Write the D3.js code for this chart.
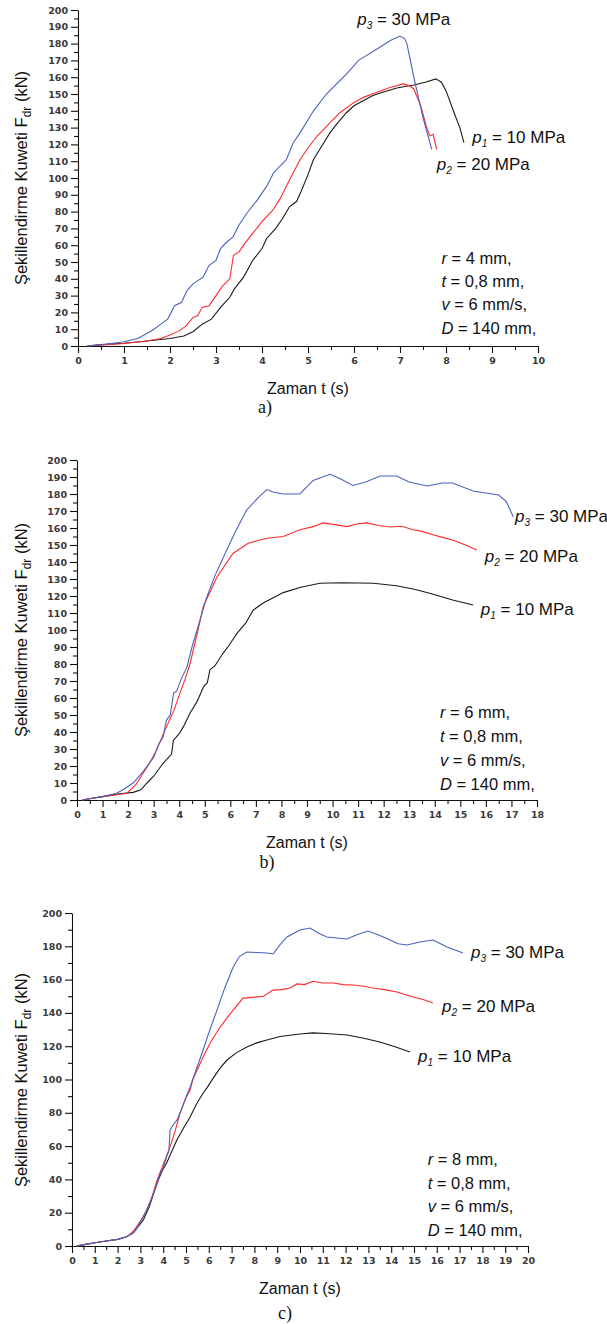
<!DOCTYPE html>
<html>
<head>
<meta charset="utf-8">
<script src="https://cdn.jsdelivr.net/npm/d3@7"></script>
<style>
  body { margin: 0; background: #fff; }
  text { font-family: "Liberation Sans", Arial, sans-serif; }
  .tick text { font-family: "DejaVu Sans", sans-serif; font-weight: bold; font-size: 9.5px; fill: #3a3a3a; }
  text.tag { font-family: "Liberation Serif", "Times New Roman", serif; }
</style>
</head>
<body>
<svg id="chart"></svg>
<script>
// panel a) r = 4 mm
const a_p1 = [[0.2,0],[0.5,0.8],[1,1.6],[1.5,3],[2,4.5],[2.3,6],[2.5,8.5],[2.7,13],[2.9,16],[3.1,23],[3.3,29],[3.4,34],[3.6,41],[3.8,51],[4.0,58],[4.1,64],[4.3,70],[4.45,76],[4.6,83],[4.75,86],[4.85,92],[5.0,102],[5.12,111],[5.3,119],[5.48,127],[5.65,133],[5.84,139],[6.0,143],[6.2,146],[6.4,149],[6.57,150.6],[6.93,153.6],[7.3,155.4],[7.55,157],[7.78,159],[7.9,157],[8.0,152],[8.16,140],[8.3,130],[8.39,121]];
const a_p2 = [[0.2,0],[0.5,0.5],[1,1.5],[1.5,3],[1.8,4.5],[2.0,6.5],[2.2,9],[2.35,12],[2.5,17],[2.6,18],[2.7,23],[2.85,24],[3.0,30],[3.15,36],[3.3,40],[3.38,54],[3.5,56],[3.65,62],[3.8,67],[4.0,74],[4.24,81],[4.4,88],[4.6,99],[4.83,111],[5.0,118],[5.2,125],[5.48,133],[5.7,139],[6.0,145],[6.2,148],[6.5,151],[6.8,154],[7.07,156],[7.2,155],[7.3,153],[7.45,143],[7.58,130],[7.65,125],[7.72,126],[7.8,117]];
const a_p3 = [[0.2,0],[0.6,1],[1,2.5],[1.3,4.5],[1.63,9.5],[1.8,13],[1.95,16],[2.1,24],[2.25,26],[2.37,33],[2.5,37],[2.72,41],[2.85,48],[3.0,51],[3.1,58],[3.2,61],[3.37,65],[3.5,72],[3.67,79],[3.9,87],[4.1,95],[4.25,103],[4.46,109],[4.53,111],[4.68,121],[4.83,127],[5.12,140],[5.4,150],[5.84,162],[6.1,170],[6.57,178],[6.8,182],[7.0,184.5],[7.1,183],[7.15,180],[7.3,160],[7.5,136],[7.69,117]];
// panel b) r = 6 mm
const b_p1 = [[0.2,0],[0.6,1],[1,2],[1.6,3.5],[2.2,4.5],[2.5,6],[2.74,10],[3.0,14],[3.37,21.6],[3.7,27],[3.77,35],[4.0,39],[4.16,43],[4.42,51],[4.7,58],[4.95,66.6],[5.1,69],[5.2,76.5],[5.4,79],[5.7,86],[5.95,91],[6.26,98],[6.6,104],[6.9,111.8],[7.3,116],[7.68,119],[8.07,122],[8.72,125],[9.5,127.5],[10.4,127.8],[11.6,127.5],[12.5,126],[13.2,124],[13.8,121.6],[14.7,117.6],[15.5,114.7]];
const b_p2 = [[0.2,0],[0.6,1],[1,2],[1.5,3],[1.95,4],[2.3,9],[2.6,16],[2.85,22],[3.1,29],[3.5,43],[3.8,53],[4.03,63],[4.25,72],[4.42,80],[4.74,100],[4.94,114],[5.2,122],[5.47,131],[6.1,145],[6.7,151],[7.43,154],[8.07,155],[8.72,159],[9.24,160.8],[9.63,163],[10.1,162],[10.56,160.8],[11.0,162.5],[11.35,163],[11.8,161.5],[12.25,160.6],[12.7,161],[13.15,159],[13.5,158],[13.93,156],[14.3,154.5],[14.7,153],[15.2,150],[15.65,147]];
const b_p3 = [[0.2,0],[0.6,1],[1,2],[1.55,4],[1.8,6],[2.2,10],[2.6,17],[3.0,25],[3.2,33],[3.37,37],[3.5,47],[3.65,50],[3.78,63],[3.9,64],[4.1,72],[4.3,78],[4.5,90],[4.7,100],[5.07,119],[5.4,132],[5.86,147],[6.2,158],[6.64,170.6],[7.1,178],[7.43,182.6],[7.7,181],[8.07,180],[8.72,180],[9.24,188],[9.9,191.6],[10.3,189],[10.8,185],[11.3,187],[11.86,190.6],[12.5,190.6],[13.0,187],[13.7,184.7],[14.3,186.5],[14.7,186.5],[15.5,181.8],[16.5,179.4],[16.8,175.5],[17.07,166.6]];
// panel c) r = 8 mm
const c_p1 = [[0.2,0],[0.6,1],[1,2],[1.5,3],[2,4],[2.4,5.5],[2.7,8],[3.13,15.6],[3.4,24],[3.73,37.8],[3.95,45],[4.15,49.8],[4.35,56],[4.6,63.7],[4.9,71],[5.18,77.5],[5.45,85],[5.75,91.9],[5.92,95],[6.2,101],[6.5,107],[6.8,111.7],[7.2,116],[7.67,119.5],[8.1,122],[8.55,123.7],[9.12,125.8],[10,127.3],[10.57,128],[11.3,127.5],[12.06,126.7],[12.8,124.8],[13.5,122.5],[14.2,119.5],[14.82,116.5]];
const c_p2 = [[0.2,0],[0.6,1],[1,2],[1.5,3],[2,4],[2.4,5.5],[2.7,9],[3.0,15],[3.29,21.6],[3.5,29],[3.73,39.6],[4.0,49],[4.3,59.5],[4.5,68],[4.74,79.8],[5.0,89],[5.18,93.7],[5.3,100],[5.75,113.5],[6.1,123],[6.5,131.5],[6.8,137],[7.07,141.7],[7.5,148.9],[8.0,149.5],[8.4,150],[8.82,153.7],[9.2,154],[9.56,155],[9.87,157.4],[10.2,157],[10.57,159],[11.0,158],[11.45,158],[11.9,157],[12.33,156.8],[12.8,156],[13.2,155],[13.7,154],[14.25,152.6],[14.96,149.6],[15.4,148],[15.83,146]];
const c_p3 = [[0.2,0],[0.6,1],[1,2],[1.5,3],[2,4],[2.4,5.5],[2.7,8],[2.9,12],[3.13,17.5],[3.35,24],[3.57,31.6],[3.75,38],[3.86,43.6],[4.0,47],[4.15,53.6],[4.25,57],[4.3,69.6],[4.45,73],[4.6,75.6],[4.8,82],[5.0,89.5],[5.18,95.5],[5.45,106],[5.75,117.7],[6.0,128],[6.36,141.7],[6.7,155],[7.07,167.6],[7.35,174],[7.67,176.6],[8.1,176.3],[8.55,176],[8.82,175.4],[9.12,180.8],[9.43,185.6],[10,189.8],[10.44,191],[10.8,188],[11.18,185.6],[12.06,184.4],[12.5,187],[12.98,189.2],[13.5,186.5],[13.95,183.8],[14.3,181.5],[14.69,180.8],[15.26,182.6],[15.83,183.8],[16.1,182],[16.45,179.6],[17.15,176]];

const seriesNames = ['1', '2', '3'];
const seriesValues = ['10', '20', '30'];
const radii = ['4', '6', '8'];
const panelTags = ['a)', 'b)', 'c)'];
const xMaxes = [10, 18, 20];
const yMajor = [10, 10, 20];

const colors = ['#1a1a1a', '#ff2a2a', '#4a62bd'];

const W = 607, H = 1324;
const svg = d3.select('#chart').attr('width', W).attr('height', H);

// layout of each panel (pixels)
const frames = [
  { left: 78, right: 538, top: 10, bottom: 346, titleY: 178, tagX: 265, tagY: 413,
    labels: [[8.57, 121], [7.8, 105], [6.07, 191]], params: [7.9, 49], pStep: 23.4 },
  { left: 77, right: 537, top: 460, bottom: 800, titleY: 630, tagX: 267, tagY: 868,
    labels: [[15.8, 108.8], [15.96, 140], [17.14, 163.5]], params: [14.2, 48.2], pStep: 24 },
  { left: 72, right: 528, top: 913, bottom: 1246, titleY: 1080, tagX: 285, tagY: 1319,
    labels: [[15.18, 110.5], [16.23, 140.5], [17.5, 173]], params: [15.6, 48.6], pStep: 23.7 }
];
const panelData = [[a_p1, a_p2, a_p3], [b_p1, b_p2, b_p3], [c_p1, c_p2, c_p3]];

frames.forEach((f, i) => {
  const x = d3.scaleLinear().domain([0, xMaxes[i]]).range([f.left, f.right]);
  const y = d3.scaleLinear().domain([0, 200]).range([f.bottom, f.top]);
  const g = svg.append('g');

  // minor ticks
  g.append('g').attr('transform', `translate(0,${f.bottom})`)
    .call(d3.axisBottom(x).tickValues(d3.range(0.5, xMaxes[i], 1)).tickSize(4).tickFormat(''))
    .call(s => s.select('.domain').remove());
  g.append('g').attr('transform', `translate(${f.left},0)`)
    .call(d3.axisLeft(y).tickValues(d3.range(yMajor[i] / 2, 200, yMajor[i])).tickSize(4).tickFormat(''))
    .call(s => s.select('.domain').remove());

  // major
  g.append('g').attr('transform', `translate(0,${f.bottom})`)
    .call(d3.axisBottom(x).tickValues(d3.range(0, xMaxes[i] + 1, 1)).tickSize(7).tickSizeOuter(0).tickPadding(4))
    .call(s => s.selectAll('.tick text').attr('dy', '0.75em'));
  g.append('g').attr('transform', `translate(${f.left},0)`)
    .call(d3.axisLeft(y).tickValues(d3.range(0, 201, yMajor[i])).tickSize(7).tickSizeOuter(0).tickPadding(3));

  g.selectAll('.domain, .tick line').attr('stroke', '#111').attr('stroke-width', 1.1);

  // curves
  const line = d3.line().x(d => x(d[0])).y(d => y(d[1]));
  panelData[i].forEach((s, k) => {
    g.append('path').datum(s).attr('d', line)
      .attr('fill', 'none').attr('stroke', colors[k]).attr('stroke-width', 1.1);
  });

  // curve labels
  f.labels.forEach((p, k) => {
    const t = g.append('text').attr('x', x(p[0])).attr('y', y(p[1]))
      .attr('font-size', 17).attr('fill', '#111');
    t.append('tspan').attr('font-style', 'italic').text('p');
    t.append('tspan').attr('font-style', 'italic').attr('font-size', 10).attr('dy', 4).text(seriesNames[k]);
    t.append('tspan').attr('dy', -4).text(` = ${seriesValues[k]} MPa`);
  });

  // parameters
  const params = [['r', ` = ${radii[i]} mm,`], ['t', ' = 0,8 mm,'], ['v', ' = 6 mm/s,'], ['D', ' = 140 mm,']];
  params.forEach((p, k) => {
    const t = g.append('text').attr('x', x(f.params[0])).attr('y', y(f.params[1]) + k * f.pStep)
      .attr('font-size', 16.5).attr('fill', '#111');
    t.append('tspan').attr('font-style', 'italic').text(p[0]);
    t.append('tspan').text(p[1]);
  });

  // axis titles
  g.append('text').attr('x', (f.left + f.right) / 2).attr('y', f.bottom + 48)
    .attr('text-anchor', 'middle').attr('font-size', 16).attr('fill', '#111').text('Zaman t (s)');
  const yt = g.append('text').attr('transform', `translate(27,${f.titleY}) rotate(-90)`)
    .attr('text-anchor', 'middle').attr('font-size', 16.5).attr('fill', '#111');
  yt.append('tspan').text('Şekillendirme Kuweti F');
  yt.append('tspan').attr('font-size', 12).attr('dy', 4).text('dr');
  yt.append('tspan').attr('dy', -4).text(' (kN)');

  g.append('text').attr('class', 'tag').attr('x', f.tagX).attr('y', f.tagY).attr('text-anchor', 'middle')
    .attr('font-size', 18).attr('fill', '#111')
    .text(panelTags[i]);
});
</script>
</body>
</html>
